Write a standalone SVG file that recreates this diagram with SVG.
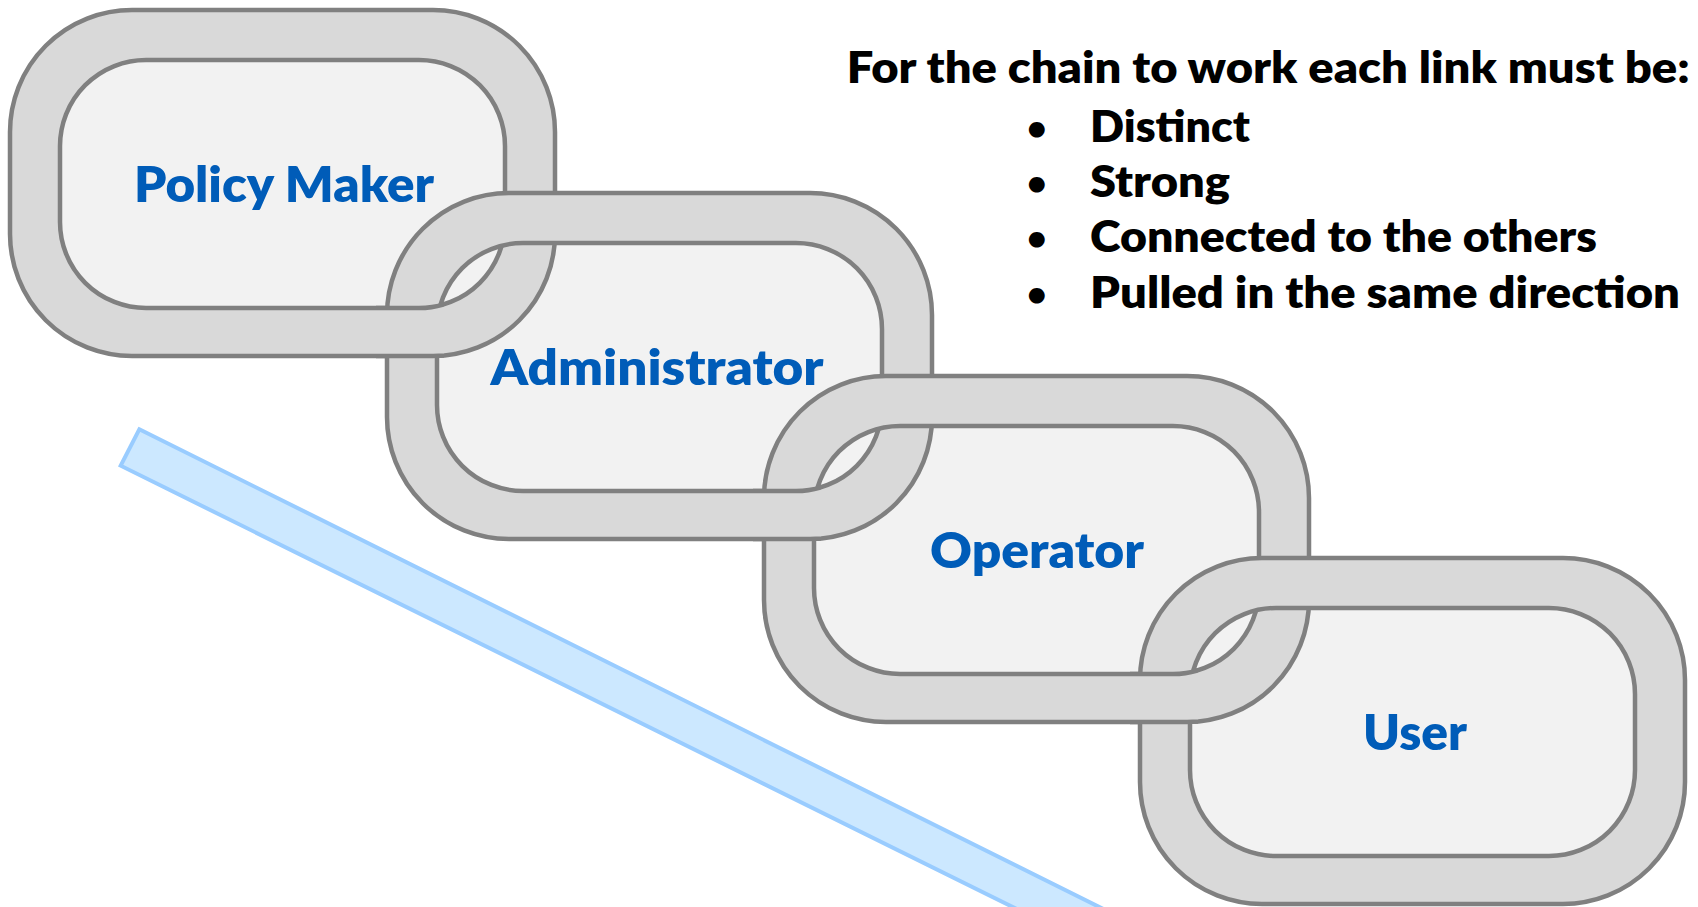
<svg xmlns="http://www.w3.org/2000/svg" xmlns:xlink="http://www.w3.org/1999/xlink" width="1698" height="907" viewBox="0 0 1698 907">
  <style>
    .ring { fill:#D9D9D9; fill-rule:evenodd; stroke:#808080; stroke-width:4.5; stroke-linejoin:round; }
    .face { fill:#F2F2F2; }
    .band { fill:#CCE8FF; stroke:#99CCFF; stroke-width:4; stroke-linejoin:miter; }
    .label { font-family:Lato, "Open Sans", "Liberation Sans", sans-serif; font-weight:800; font-size:50px; fill:#005CB8; text-anchor:middle; }
    .note { font-family:Lato, "Open Sans", "Liberation Sans", sans-serif; font-weight:800; font-size:44px; fill:#000000; }
    .bullet { text-anchor:middle; font-size:32px; }
  </style>
  <defs>
    <path id="ring" d="M122,0 H423 A122,122 0 0 1 545,122 V224 A122,122 0 0 1 423,346 H122 A122,122 0 0 1 0,224 V122 A122,122 0 0 1 122,0 Z M136,50 H409 A86,86 0 0 1 495,136 V212 A86,86 0 0 1 409,298 H136 A86,86 0 0 1 50,212 V136 A86,86 0 0 1 136,50 Z"/>
    <rect id="face" x="50" y="50" width="445" height="248" rx="86" ry="86"/>
    <clipPath id="overClip" clipPathUnits="userSpaceOnUse">
      <rect x="366" y="285" width="68" height="74"/>
    </clipPath>
  </defs>

  <rect width="1698" height="907" fill="#FFFFFF"/>

  <g id="guide-band">
    <polygon class="band" points="139.3,429.3 1400,1056.6 1400,1098.6 120.7,465.7"/>
  </g>

  <g id="link-faces">
    <use href="#face" class="face" transform="translate(10,10)"/>
    <use href="#face" class="face" transform="translate(387,193)"/>
    <use href="#face" class="face" transform="translate(764,376)"/>
    <use href="#face" class="face" transform="translate(1140,558)"/>
  </g>

  <g id="link-policy-maker" transform="translate(10,10)">
    <use href="#ring" class="ring"/>
    <text class="label" x="274" y="192" textLength="300" lengthAdjust="spacingAndGlyphs">Policy Maker</text>
  </g>

  <g id="link-administrator" transform="translate(387,193)">
    <use href="#ring" class="ring"/>
    <text class="label" x="270" y="192" textLength="333" lengthAdjust="spacingAndGlyphs">Administrator</text>
  </g>

  <g id="link-operator" transform="translate(764,376)">
    <use href="#ring" class="ring"/>
    <text class="label" x="273" y="191.5" textLength="214" lengthAdjust="spacingAndGlyphs">Operator</text>
  </g>

  <g id="link-user" transform="translate(1140,558)">
    <use href="#ring" class="ring"/>
    <text class="label" x="275" y="192" textLength="104" lengthAdjust="spacingAndGlyphs">User</text>
  </g>

  <g id="link-crossings">
    <g transform="translate(10,10)"><use href="#ring" class="ring" clip-path="url(#overClip)"/></g>
    <g transform="translate(387,193)"><use href="#ring" class="ring" clip-path="url(#overClip)"/></g>
    <g transform="translate(764,376)"><use href="#ring" class="ring" clip-path="url(#overClip)"/></g>
  </g>

  <g id="requirements">
    <text class="note" x="846.7" y="83.3" textLength="843" lengthAdjust="spacingAndGlyphs">For the chain to work each link must be:</text>
    <text class="note bullet" x="1036.7" y="138.5">•</text>
    <text class="note" x="1090" y="141.7" textLength="160" lengthAdjust="spacingAndGlyphs">Distinct</text>
    <text class="note bullet" x="1036.7" y="193.5">•</text>
    <text class="note" x="1090" y="196.7" textLength="140" lengthAdjust="spacingAndGlyphs">Strong</text>
    <text class="note bullet" x="1036.7" y="248.8">•</text>
    <text class="note" x="1090" y="252" textLength="507" lengthAdjust="spacingAndGlyphs">Connected to the others</text>
    <text class="note bullet" x="1036.7" y="305.1">•</text>
    <text class="note" x="1090" y="308.3" textLength="590" lengthAdjust="spacingAndGlyphs">Pulled in the same direction</text>
  </g>
</svg>
